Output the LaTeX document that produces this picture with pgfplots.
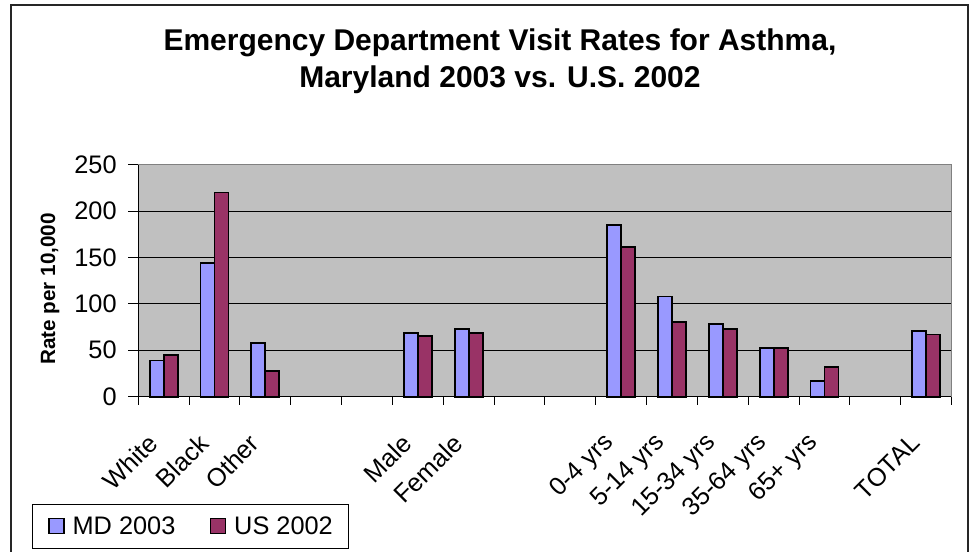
\documentclass[border=0pt]{standalone}
\usepackage{fontspec}
\setmainfont{Liberation Sans}
\usepackage{pgfplots}
\pgfplotsset{compat=1.18}
\definecolor{mdc}{HTML}{9999FF}
\definecolor{usc}{HTML}{993366}
\definecolor{bgc}{HTML}{C0C0C0}
\definecolor{brd}{HTML}{808080}
\pgfplotsset{sqleg/.style={legend image code/.code={\draw[##1,line width=0.9pt] (0pt,-5.6pt) rectangle (11.2pt,5.6pt);}}}
\begin{document}
\begin{tikzpicture}[x=1pt,y=1pt]
\path[use as bounding box] (0,0) rectangle (729,414);
\draw[line width=0.9pt, black!85] (8.25,-5) -- (8.25,410.25) -- (726,410.25) -- (726,-5);
\node[font=\fontsize{22.5}{26}\selectfont\bfseries] at (375,381.75) {Emergency Department Visit Rates for Asthma,};
\node[font=\fontsize{22.5}{26}\selectfont\bfseries] at (375,354) {Maryland 2003 vs. U.S. 2002};
\node[font=\fontsize{15.5}{18}\selectfont\bfseries, rotate=90] at (37.5,197.25) {Rate per 10,000};
\begin{axis}[
  at={(103.7pt,116.5pt)}, anchor=south west, scale only axis,
  width=610pt, height=174pt,
  xmin=-0.5, xmax=15.5, ymin=0, ymax=250,
  ytick={0,50,...,250},
  xtick={0,...,15},
  xticklabels={White,Black,Other,{},{},Male,Female,{},{},0-4 yrs,5-14 yrs,15-34 yrs,35-64 yrs,65+ yrs,{},TOTAL},
  minor xtick={-0.5,0.5,...,15.5},
  major x tick style={draw=none},
  axis x line*=bottom, axis y line*=left,
  axis line style={black, line width=0.8pt},
  tick align=outside,
  major tick length=7.5pt, minor tick length=6pt,
  tick style={black, line width=0.8pt},
  axis background/.style={fill=bgc},
  ymajorgrids, major grid style={black, line width=0.75pt},
  /pgf/number format/assume math mode=true,
  yticklabel style={font=\fontsize{19}{22}\selectfont, anchor=east, inner sep=0pt, xshift=-8.5pt},
  xticklabel style={font=\fontsize{19}{22}\selectfont, inner sep=0pt, xshift=-8pt, yshift=-24pt, rotate=45, anchor=east},
  ybar, bar width=0.275,
  legend style={at={(-0.1307,-0.4625)}, anchor=north west, legend columns=2, draw=black, line width=0.8pt, fill=white,
    font=\fontsize{19}{22}\selectfont, inner xsep=12pt, inner ysep=9pt, nodes={inner sep=0pt},
    /tikz/every odd column/.append style={column sep=6pt},
    /tikz/every even column/.append style={column sep=26pt}},
  clip=false,
]
\addplot[fill=mdc, draw=black, line width=1.4pt, bar shift=-0.1375, sqleg] coordinates {
 (0,39) (1,144) (2,58) (5,69) (6,73) (9,185) (10,108) (11,78) (12,52) (13,17) (15,71)};
\addplot[fill=usc, draw=black, line width=1.4pt, bar shift=0.1375, sqleg] coordinates {
 (0,45) (1,220) (2,28) (5,65) (6,69) (9,161) (10,80) (11,73) (12,52) (13,32) (15,67)};
\legend{MD 2003,US 2002}
\draw[brd, line width=1pt] (rel axis cs:0,1) -- (rel axis cs:1,1) -- (rel axis cs:1,0);
\end{axis}
\end{tikzpicture}
\end{document}
